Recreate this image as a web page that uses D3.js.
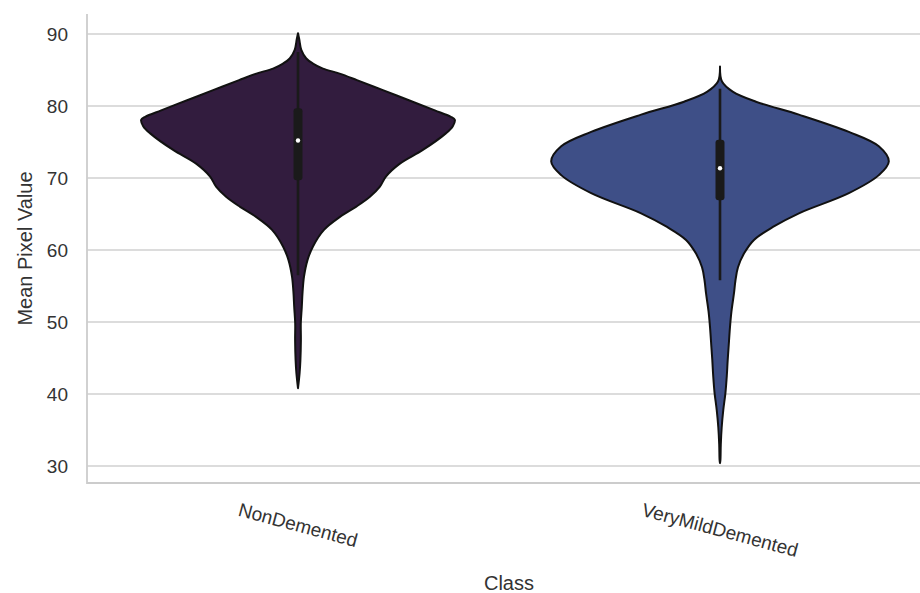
<!DOCTYPE html>
<html>
<head>
<meta charset="utf-8">
<script src="https://cdn.jsdelivr.net/npm/d3@7"></script>
<style>
  html, body { margin: 0; padding: 0; background: #ffffff; }
  svg { display: block; font-family: "Liberation Sans", Arial, Helvetica, sans-serif; }
</style>
</head>
<body>
<svg id="chart" width="920" height="593"></svg>
<script>
// Classes on the x axis
const categories = ["NonDemented", "VeryMildDemented"];

// Kernel density profiles: [mean pixel value, density (relative half-width)]
const nonDementedDensity = [
  [90.1, 0], [89.3, 1.2], [87.8, 3.3], [86.6, 8.3], [85.9, 15], [85.2, 25],
  [84.5, 41.7], [83.6, 59], [82.2, 85], [80.8, 111], [79.4, 137], [78.5, 153],
  [78.1, 157], [77.2, 155], [76.2, 148], [73.9, 125], [72.0, 102], [70.2, 88],
  [68.8, 82], [67.4, 72], [66.0, 58], [64.6, 42], [62.8, 26], [60.5, 15],
  [58.6, 9.5], [56.3, 6], [54.2, 4.6], [52.1, 3.8], [49.8, 2.8], [47.5, 2.9],
  [44.7, 2.4], [42.9, 1.6], [40.8, 0]
];
const veryMildDensity = [
  [85.5, 0], [83.4, 2], [82.0, 12.7], [80.6, 36], [78.8, 79], [76.4, 129],
  [74.4, 159], [72.3, 169], [70.4, 159], [67.9, 129], [65.1, 79], [63.2, 53],
  [61.4, 34], [59.5, 24], [57.6, 18], [55.8, 15.5], [54.0, 14], [51.5, 11.5],
  [49.3, 10], [46.5, 8.6], [44.7, 7.7], [42.5, 6.8], [40.1, 5.4], [37.8, 3.3],
  [35.4, 1.7], [33.0, 0.8], [30.8, 0.4], [30.4, 0]
];
const densities = [nonDementedDensity, veryMildDensity];

// Box summary per class: lower whisker, Q1, median, Q3, upper whisker
const whiskerLow  = [56.5, 55.8];
const q1Values    = [69.7, 66.9];
const medians     = [75.2, 71.35];
const q3Values    = [79.7, 75.3];
const whiskerHigh = [87.5, 82.4];

const yTicks = [30, 40, 50, 60, 70, 80, 90];
const fillColors = ["#321c3e", "#3e4f87"];

const svg = d3.select("#chart");
const plot = { left: 87, right: 931, top: 14, bottom: 483 };

const x = d3.scalePoint().domain(categories).range([plot.left, plot.right]).padding(0.5);
const y = d3.scaleLinear().domain([27.64, 92.78]).range([plot.bottom, plot.top]);
const maxDensity = d3.max(densities.flat(), d => d[1]);
const w = d3.scaleLinear().domain([0, maxDensity]).range([0, x.step() * 0.4]);

// Horizontal grid lines
svg.append("g")
  .selectAll("line")
  .data(yTicks)
  .join("line")
  .attr("x1", plot.left).attr("x2", plot.right)
  .attr("y1", d => y(d)).attr("y2", d => y(d))
  .attr("stroke", "#dcdcdc")
  .attr("stroke-width", 1.8);

// Spines
svg.append("line")
  .attr("x1", plot.left).attr("x2", plot.left).attr("y1", plot.top).attr("y2", plot.bottom + 0.9)
  .attr("stroke", "#cccccc").attr("stroke-width", 1.8);
svg.append("line")
  .attr("x1", plot.left).attr("x2", plot.right).attr("y1", plot.bottom).attr("y2", plot.bottom)
  .attr("stroke", "#cccccc").attr("stroke-width", 1.8);

// Y axis tick labels
const yAxis = svg.append("g")
  .attr("transform", `translate(${plot.left},0)`)
  .call(d3.axisLeft(y).tickValues(yTicks).tickSize(0).tickPadding(19).tickFormat(d3.format("d")));
yAxis.select(".domain").remove();
yAxis.selectAll("text")
  .attr("fill", "#333333")
  .style("font-size", "19px")
  .style("font-family", "'Liberation Sans', Arial, sans-serif");

// Violins
const area = d3.area()
  .curve(d3.curveCatmullRom.alpha(0.5))
  .y(d => y(d[0]));

categories.forEach((cat, i) => {
  const cx = x(cat);
  svg.append("path")
    .datum(densities[i])
    .attr("d", area.x0(d => cx - w(d[1])).x1(d => cx + w(d[1])))
    .attr("fill", fillColors[i])
    .attr("stroke", "#111111")
    .attr("stroke-width", 2)
    .attr("stroke-linejoin", "round");

  // Whisker line
  svg.append("line")
    .attr("x1", cx).attr("x2", cx)
    .attr("y1", y(whiskerHigh[i])).attr("y2", y(whiskerLow[i]))
    .attr("stroke", "#1a1a1a").attr("stroke-width", 2.6);

  // Interquartile box
  svg.append("rect")
    .attr("x", cx - 4.5).attr("width", 9)
    .attr("y", y(q3Values[i])).attr("height", y(q1Values[i]) - y(q3Values[i]))
    .attr("rx", 3)
    .attr("fill", "#1a1a1a");

  // Median marker
  svg.append("circle")
    .attr("cx", cx).attr("cy", y(medians[i]))
    .attr("r", 2.2)
    .attr("fill", "#ffffff");
});

// Rotated category labels
const angle = 15;
const rad = angle * Math.PI / 180;
categories.forEach(cat => {
  const t = svg.append("text")
    .text(cat)
    .attr("text-anchor", "middle")
    .attr("dominant-baseline", "central")
    .attr("fill", "#333333")
    .style("font-size", "19px");
  const len = t.node().getComputedTextLength();
  const h = 21;
  const extent = len * Math.sin(rad) + h * Math.cos(rad);
  t.attr("transform", `translate(${x(cat)},${plot.bottom + 16 + extent / 2}) rotate(${angle})`);
});

// Axis titles
svg.append("text")
  .attr("x", (plot.left + plot.right) / 2)
  .attr("y", 590)
  .attr("text-anchor", "middle")
  .attr("fill", "#333333")
  .style("font-size", "20px")
  .text("Class");

svg.append("text")
  .attr("transform", `translate(32,${(plot.top + plot.bottom) / 2}) rotate(-90)`)
  .attr("text-anchor", "middle")
  .attr("fill", "#333333")
  .style("font-size", "20px")
  .text("Mean Pixel Value");
</script>
</body>
</html>
